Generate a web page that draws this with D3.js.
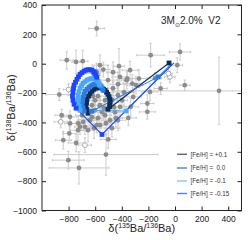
<!DOCTYPE html>
<html lang="en">
<head>
<meta charset="UTF-8">
<title>Ba isotopes</title>
<style>
  body { margin: 0; background: #fff; }
  text { font-family: "Liberation Sans", Arial, sans-serif; }
</style>
</head>
<body>
<div id="chart"></div>
<script src="https://d3js.org/d3.v7.min.js"></script>
<script>

// presolar grains, filled grey
let grainX = [-589, -744, -694, -870, -589, -466, -421, -183, 38, 331, 73, -108, -359, -271, -321, -208, -333, 17,
  -802, -722, -519, -589, -502, -840, -795, -743, -727, -677, -789, -852, -789, -714, -690, -208, -351, -150, -293,
  -188, -814, -564, -539, -338, -414, -363, -614, -314, -414, -602, -564, -526, -489, -579, -451, -474, -429, -639,
  -564, -624, -429, -398, -534, -602, -474, -654,
  -526, -579, -617, -549, -459, -444, -519, -609, -699, -729, -383, -429, -504, -466, -624];
let grainY = [240, 12, 17, -210, -56, -167, -17, 58, 80, -185, -146, -169, -101, -101, -135, -271, -294, -10,
  -657, -710, -619, -419, -516, -521, -475, -540, -407, -430, -407, -351, -362, -430, -396, -328, -369, -99, -146,
  -192, 24, -10, -40, -44, -90, -112, -67, -226, -294, -249, -283, -351, -385, -371, -330, -249, -215, -385,
  -419, -283, -385, -249, -303, -317, -439, -453,
  -249, -221, -221, -330, -296, -371, -405, -439, -351, -453, -194, -140, -112, -58, -364];
let grainErrX = [60, 30, 40, 100, 50, 40, 40, 105, 80, 800, 40, 50, 60, 60, 70, 50, 60, 40,
  120, 225, 390, 50, 60, 60, 50, 60, 50, 50, 40, 50, 50, 40, 50, 60, 60, 50, 50,
  60, 50, 60, 50, 60, 60, 40, 50, 60, 50, 40, 60, 50, 50, 40, 60, 40, 70, 50,
  60, 50, 60, 40, 50, 40, 60, 50,
  70, 60, 50, 80, 60, 50, 70, 60, 50, 60, 80, 60, 70, 50, 60];
let grainErrY = [50, 80, 75, 40, 60, 50, 120, 80, 55, 230, 35, 40, 50, 60, 60, 60, 60, 50,
  60, 110, 140, 50, 60, 60, 50, 60, 50, 50, 50, 40, 40, 50, 60, 50, 50, 40, 60,
  60, 60, 70, 50, 60, 50, 60, 50, 60, 60, 60, 50, 70, 60, 50, 60, 70, 50, 60,
  50, 60, 70, 60, 50, 60, 60, 80,
  80, 70, 90, 60, 70, 60, 80, 70, 60, 70, 90, 80, 100, 70, 60];

// grains drawn as open circles
let openX = [-800, -859, -677, -38, -50];
let openY = [-176, -396, -555, -90, -67];
let openErrX = [40, 50, 50, 40, 30];
let openErrY = [40, 40, 50, 40, 40];

// model predictions
let seriesNames = ["[Fe/H] = +0.1", "[Fe/H] =  0.0", "[Fe/H] = -0.1", "[Fe/H] = -0.15"];
let seriesColors = ["#0b2d5b", "#2a7de0", "#4aa8f8", "#1a46ff"];
let legendColors = ["#4b6886", "#3f86da", "#8cc4f4", "#5b7cf0"];

let feP01X = [-45, -504, -492, -489, -489, -489, -496, -504, -515, -526, -538, -549, -564, -579, -594, -609, -624,
  -639, -650, -662, -665, -669, -662, -654];
let feP01Y = [5, -310, -293, -276, -259, -242, -225, -208, -194, -181, -174, -167, -163, -163, -167, -174, -187,
  -201, -221, -242, -266, -290, -313, -337];
let fe00X = [-30, -126, -626, -684, -692, -699, -695, -692, -684, -677, -662, -647, -632, -617, -602, -587, -571,
  -556, -549, -541];
let fe00Y = [-3, -90, -324, -324, -300, -276, -252, -228, -208, -187, -174, -160, -150, -143, -140, -140, -146,
  -153, -167, -181];
let feM01X = [-23, -368, -714, -722, -729, -729, -729, -722, -714, -703, -692, -677, -662, -647, -632, -617, -602,
  -590, -579, -571, -564];
let feM01Y = [0, -322, -317, -290, -262, -238, -215, -191, -167, -150, -133, -123, -112, -106, -102, -102, -106,
  -112, -119, -133, -146];
let feM015X = [-8, -549, -744, -759, -767, -771, -767, -763, -759, -748, -737, -726, -714, -699, -684, -669, -654,
  -639, -624, -609, -602, -594, -587];
let feM015Y = [5, -482, -303, -276, -249, -221, -194, -167, -146, -126, -106, -89, -72, -61, -51, -44, -41,
  -41, -44, -54, -65, -78, -92];
let firstMarked = [true, false, false, false];

let xTicks = [-800, -600, -400, -200, 0, 200, 400];
let yTicks = [-1000, -800, -600, -400, -200, 0, 200, 400];

let W = 249, H = 240;
let pl = 42, pr = 241.5, pt = 5, pb = 210.5;

let x = d3.scaleLinear().domain([-1000, 500]).range([pl, pr]);
let y = d3.scaleLinear().domain([-1000, 400]).range([pb, pt]);

let svg = d3.select("#chart").append("svg")
  .attr("width", W).attr("height", H);

svg.append("defs").append("clipPath").attr("id", "plot")
  .append("rect").attr("x", pl).attr("y", pt)
  .attr("width", pr - pl).attr("height", pb - pt);

let fmt = d => d < 0 ? "\u2212" + Math.abs(d) : "" + d;

// grains
let grains = grainX.map((v, i) => ({ x: v, y: grainY[i], ex: grainErrX[i], ey: grainErrY[i], open: false }))
  .concat(openX.map((v, i) => ({ x: v, y: openY[i], ex: openErrX[i], ey: openErrY[i], open: true })));

let eb = svg.append("g").attr("clip-path", "url(#plot)")
  .attr("stroke", "#c6c6c6").attr("stroke-width", 0.9);

grains.forEach(d => {
  eb.append("line").attr("x1", x(d.x - d.ex)).attr("x2", x(d.x + d.ex))
    .attr("y1", y(d.y)).attr("y2", y(d.y));
  eb.append("line").attr("x1", x(d.x)).attr("x2", x(d.x))
    .attr("y1", y(d.y - d.ey)).attr("y2", y(d.y + d.ey));
  [d.x - d.ex, d.x + d.ex].forEach(v => {
    eb.append("line").attr("x1", x(v)).attr("x2", x(v))
      .attr("y1", y(d.y) - 1.2).attr("y2", y(d.y) + 1.2);
  });
  [d.y - d.ey, d.y + d.ey].forEach(v => {
    eb.append("line").attr("y1", y(v)).attr("y2", y(v))
      .attr("x1", x(d.x) - 1.2).attr("x2", x(d.x) + 1.2);
  });
});

svg.append("g").selectAll("circle")
  .data(grains)
  .join("circle")
  .attr("cx", d => x(d.x))
  .attr("cy", d => y(d.y))
  .attr("r", 2.4)
  .attr("fill", d => d.open ? "#fff" : "#8c8c8c")
  .attr("stroke", d => d.open ? "#9a9a9a" : "none")
  .attr("stroke-width", 0.8);

// model lines and squares
let models = [[feP01X, feP01Y], [fe00X, fe00Y], [feM01X, feM01Y], [feM015X, feM015Y]];
let line = d3.line().x(d => x(d[0])).y(d => y(d[1]));

models.forEach((m, k) => {
  let pts = m[0].map((v, i) => [v, m[1][i]]);
  svg.append("path")
    .datum(pts)
    .attr("fill", "none")
    .attr("stroke", seriesColors[k])
    .attr("stroke-width", 1.1)
    .attr("d", line);
});

models.forEach((m, k) => {
  let pts = m[0].map((v, i) => [v, m[1][i]]);
  if (!firstMarked[k]) pts = pts.slice(1);
  svg.append("g").selectAll("rect")
    .data(pts)
    .join("rect")
    .attr("x", d => x(d[0]) - 2.4)
    .attr("y", d => y(d[1]) - 2.4)
    .attr("width", 4.8)
    .attr("height", 4.8)
    .attr("fill", seriesColors[k]);
});

// frame and ticks
svg.append("rect")
  .attr("x", pl).attr("y", pt)
  .attr("width", pr - pl).attr("height", pb - pt)
  .attr("fill", "none").attr("stroke", "#222").attr("stroke-width", 1);

let ax = svg.append("g").attr("transform", "translate(0," + pb + ")")
  .call(d3.axisBottom(x).tickValues(xTicks).tickSizeInner(-4).tickSizeOuter(0).tickPadding(5).tickFormat(fmt));
let ay = svg.append("g").attr("transform", "translate(" + pl + ",0)")
  .call(d3.axisLeft(y).tickValues(yTicks).tickSizeInner(-4).tickSizeOuter(0).tickPadding(5).tickFormat(fmt));
let at = svg.append("g").attr("transform", "translate(0," + pt + ")")
  .call(d3.axisTop(x).tickValues(xTicks).tickSizeInner(-4).tickSizeOuter(0).tickFormat(""));
let ar = svg.append("g").attr("transform", "translate(" + pr + ",0)")
  .call(d3.axisRight(y).tickValues(yTicks).tickSizeInner(-4).tickSizeOuter(0).tickFormat(""));

[ax, ay, at, ar].forEach(g => {
  g.select(".domain").remove();
  g.selectAll(".tick line").attr("stroke", "#222");
  g.selectAll("text").attr("font-size", "8.5px").attr("fill", "#222")
    .attr("font-family", "Liberation Sans, Arial, sans-serif");
});

// axis labels
let xl = svg.append("text")
  .attr("x", (pl + pr) / 2).attr("y", 232)
  .attr("text-anchor", "middle").attr("font-size", "11px").attr("fill", "#222");
xl.append("tspan").text("\u03b4(");
xl.append("tspan").attr("font-size", "7px").attr("dy", -4).text("135");
xl.append("tspan").attr("dy", 4).text("Ba/");
xl.append("tspan").attr("font-size", "7px").attr("dy", -4).text("136");
xl.append("tspan").attr("dy", 4).text("Ba)");

let yl = svg.append("text")
  .attr("transform", "translate(15," + ((pt + pb) / 2) + ") rotate(-90)")
  .attr("text-anchor", "middle").attr("font-size", "11px").attr("fill", "#222");
yl.append("tspan").text("\u03b4(");
yl.append("tspan").attr("font-size", "7px").attr("dy", -4).text("138");
yl.append("tspan").attr("dy", 4).text("Ba/");
yl.append("tspan").attr("font-size", "7px").attr("dy", -4).text("136");
yl.append("tspan").attr("dy", 4).text("Ba)");

// title
let tt = svg.append("text")
  .attr("x", 161).attr("y", 24)
  .attr("font-size", "10px").attr("fill", "#222")
  .style("white-space", "pre");
tt.append("tspan").text("3M");
tt.append("tspan").attr("font-size", "6px").attr("dy", 2.5).text("\u2299");
tt.append("tspan").attr("dy", -2.5).text("2.0%  V2");

// legend
let legendY = [154.3, 168, 181, 193.5];
seriesNames.forEach((name, k) => {
  svg.append("line")
    .attr("x1", 177).attr("x2", 187)
    .attr("y1", legendY[k]).attr("y2", legendY[k])
    .attr("stroke", legendColors[k]).attr("stroke-width", 1.4);
  svg.append("text")
    .attr("x", 190.5).attr("y", legendY[k]).attr("dy", "0.35em")
    .attr("font-size", "6.3px").attr("fill", "#333")
    .style("white-space", "pre")
    .text(name);
});

</script>
</body>
</html>
